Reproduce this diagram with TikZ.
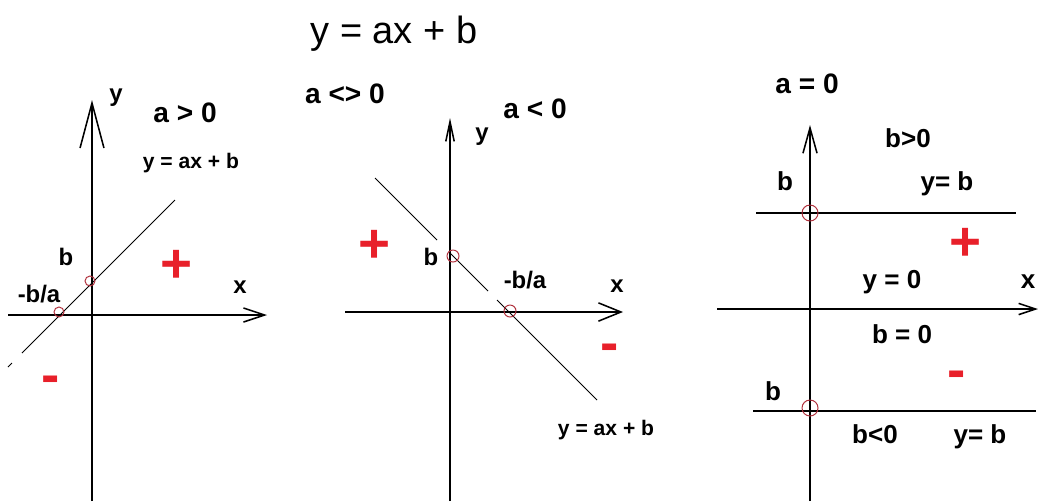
\documentclass[tikz,border=0pt]{standalone}
\usepackage{fontspec}
\setmainfont{Liberation Sans}
\usetikzlibrary{arrows.meta}
\definecolor{ptred}{HTML}{B0303C}
\definecolor{signred}{HTML}{E8202A}

\begin{document}
\begin{tikzpicture}[
    x=0.025cm, y=-0.025cm,
    axis/.style={line width=1.1pt},
    graph/.style={line width=0.7pt},
    root/.style={draw=ptred,line width=0.7pt},
    title/.style={font=\fontsize{27}{30}\selectfont,anchor=base,inner sep=0pt},
    case/.style={font=\fontsize{20}{22}\selectfont\bfseries,anchor=base,inner sep=0pt},
    lbl/.style={font=\fontsize{17}{19}\selectfont\bfseries,anchor=base,inner sep=0pt},
    eq/.style={font=\fontsize{15}{17}\selectfont\bfseries,anchor=base,inner sep=0pt},
    big/.style={font=\fontsize{18.5}{20}\selectfont\bfseries,anchor=base,inner sep=0pt},
    sign/.style={font=\fontsize{39}{40}\selectfont\bfseries,text=signred,inner sep=0pt}
]
\useasboundingbox (0,0) rectangle (1038,501);

\node[title] (head) at (394,43) {y = ax + b};
\node[case] (ne) at (345,103) {a <> 0};

% Case a > 0
\coordinate (ya) at (92,501);
\coordinate (yb) at (92,100);
\coordinate (xa) at (8,315);
\coordinate (xb) at (267,315);
\draw[axis,-{Straight Barb[length=32pt,width=17pt]}] (ya) -- (yb);
\draw[axis,-{Straight Barb[length=15pt,width=10pt]}] (xa) -- (xb);
\draw[graph] (8,367) -- (12,363);
\draw[graph] (22,353) -- (175,200);
\draw[root] (90,281) circle[radius=5];
\draw[root] (59,312) circle[radius=5];
\node[lbl] (ylab) at (116,101) {y};
\node[case] (pos) at (185,122) {a > 0};
\node[eq] (eqa) at (191,168) {y = ax + b};
\node[lbl] (ba) at (66,265) {b};
\node[lbl] (ra) at (39,302) {-b/a};
\node[lbl] (xlab) at (240,293) {x};
\node[sign] (pa) at (177,266) {+};
\node[sign] (ma) at (51,385) {-};

% Case a < 0
\coordinate (yc) at (450,501);
\coordinate (yd) at (450,118);
\coordinate (xc) at (345,312);
\coordinate (xd) at (623,312);
\draw[axis,-{Straight Barb[length=14pt,width=6pt]}] (yc) -- (yd);
\draw[axis,-{Straight Barb[length=16pt,width=13pt]}] (xc) -- (xd);
\draw[graph] (375,178) -- (437,240);
\draw[graph] (449,252) -- (488,291);
\draw[graph] (497,300) -- (597,400);
\draw[root] (453,256) circle[radius=6];
\draw[root] (510,311) circle[radius=6];
\node[case] (neg) at (535,118) {a < 0};
\node[lbl] (ylab2) at (482,140) {y};
\node[lbl] (bb) at (431,265) {b};
\node[lbl] (rb) at (525,288) {-b/a};
\node[lbl] (xlab2) at (617,292) {x};
\node[eq] (eqb) at (606,435) {y = ax + b};
\node[sign] (pb) at (375,246) {+};
\node[sign] (mb) at (610,353) {-};

% Case a = 0
\coordinate (ye) at (810,501);
\coordinate (yf) at (810,125);
\coordinate (xe) at (717,309);
\coordinate (xf) at (1038,309);
\draw[axis,-{Straight Barb[length=18pt,width=10pt]}] (ye) -- (yf);
\draw[axis,-{Straight Barb[length=12pt,width=8pt]}] (xe) -- (xf);
\draw[axis] (756,213) -- (1016,213);
\draw[axis] (753,411) -- (1036,411);
\draw[root] (810,213) circle[radius=8];
\draw[root] (810,408) circle[radius=8];
\node[case] (zero) at (807,93) {a = 0};
\node[big] (bpos) at (908,147) {b>0};
\node[big] (bc) at (785,190) {b};
\node[big] (yc1) at (947,190) {y= b};
\node[big] (y0) at (892,288) {y = 0};
\node[big] (xlab3) at (1028,288) {x};
\node[big] (b0) at (902,343) {b = 0};
\node[big] (bd) at (773,400) {b};
\node[big] (bneg) at (875,443) {b<0};
\node[big] (yc2) at (980,443) {y= b};
\node[sign] (pc) at (965,244) {+};
\node[sign] (mc) at (957,380) {-};

\end{tikzpicture}
\end{document}
